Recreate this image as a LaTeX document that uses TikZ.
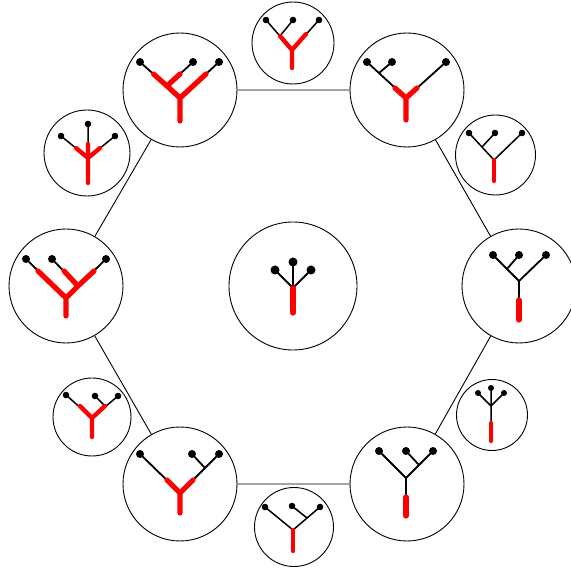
\documentclass[tikz,border=0pt]{standalone}
\begin{document}
\begin{tikzpicture}[x=1pt, y=-1pt,
    vert/.style={circle, draw, line width=0.9pt, inner sep=0pt, minimum size=114pt},
    mid/.style={circle, draw, line width=0.9pt, inner sep=0pt},
    twig/.style={line width=1.8pt, line join=round},
    hot/.style={red, line width=5.2pt, line cap=round, line join=round},
    thintwig/.style={line width=1.5pt, line join=round},
    thinhot/.style={red, line width=4.3pt, line cap=round, line join=round}]
  \useasboundingbox (0,0) rectangle (571,569);

  % Hexagon of trees
  \node[vert] (tl) at (180,90) {};
  \node[vert] (tr) at (407,90) {};
  \node[vert] (rt) at (519,286) {};
  \node[vert] (br) at (407,484) {};
  \node[vert] (bl) at (180,484) {};
  \node[vert] (lf) at (66,286) {};
  \draw[line width=0.9pt] (tl) -- (tr) -- (rt) -- (br) -- (bl) -- (lf) -- (tl);

  % Trees between them, and the star in the middle
  \node[mid, minimum size=82pt] (top) at (293,43) {};
  \node[mid, minimum size=80pt] (trs) at (495.5,155) {};
  \node[mid, minimum size=71pt] (brs) at (492,415) {};
  \node[mid, minimum size=79pt] (bot) at (294,527) {};
  \node[mid, minimum size=78pt] (bls) at (92,417) {};
  \node[mid, minimum size=86pt] (tls) at (87,153) {};
  \node[mid, minimum size=128pt] (star) at (293,286) {};

  % Top left
  \draw[twig] (140,62) -- (180,98) -- (219,62) (167,86) -- (193,62) (180,98) -- (180,121);
  \draw[hot] (153.5,74) -- (167,86) -- (180,74) (167,86) -- (180,98) -- (206,74) (180,98) -- (180,121);
  \fill (140,62) circle (4) (193,62) circle (4) (219,62) circle (4);

  % Top right
  \draw[twig] (367,62) -- (406,98) -- (446,62) (379,73) -- (392,62) (406,98) -- (406,120);
  \draw[hot] (395,88) -- (406,98) -- (417,88) (406,98) -- (406,120);
  \fill (367,62) circle (4) (392,62) circle (4) (446,62) circle (4);

  % Right
  \draw[twig] (493,255) -- (519,281) -- (546,255) (507,269) -- (519,255) (519,281) -- (519,320);
  \draw[hot] (519,300) -- (519,320);
  \fill (493,255) circle (4) (519,255) circle (4) (546,255) circle (4);

  % Bottom right
  \draw[twig] (379,451) -- (406,478) -- (433,451) (419,465) -- (406,451) (406,478) -- (406,516);
  \draw[hot] (406,497) -- (406,516);
  \fill (379,451) circle (4) (406,451) circle (4) (433,451) circle (4);

  % Bottom left
  \draw[twig] (140,454) -- (180,493) -- (219,454) (205,468) -- (192,454) (180,493) -- (180,513);
  \draw[hot] (167,480) -- (180,493) -- (193,480) (180,493) -- (180,513);
  \fill (140,454) circle (4) (192,454) circle (4) (219,454) circle (4);

  % Left
  \draw[twig] (26,259) -- (66,298) -- (106,259) (78,286) -- (52,259) (66,298) -- (66,316);
  \draw[hot] (38,271) -- (66,298) -- (78,286) -- (94,271) (78,286) -- (64,271) (66,298) -- (66,316);
  \fill (26,259) circle (4) (52,259) circle (4) (106,259) circle (4);

  % Star
  \draw[twig] (275,270) -- (293,288) -- (311,270) (293,262) -- (293,288) -- (293,313);
  \draw[hot] (293,288) -- (293,313);
  \fill (275,270) circle (4.5) (293,262) circle (4.5) (311,270) circle (4.5);

  % Small ones
  \draw[thintwig] (266,20) -- (292,50) -- (319,20) (280,36) -- (293,20) (292,50) -- (292,68);
  \draw[thinhot] (280,36) -- (292,50) -- (306,34) (292,50) -- (292,68);
  \fill (266,20) circle (3.3) (293,20) circle (3.3) (319,20) circle (3.3);

  \draw[thintwig] (469,133) -- (494,160) -- (522,133) (482,147) -- (495,133) (494,160) -- (494,181);
  \draw[thinhot] (494,160) -- (494,181);
  \fill (469,133) circle (3.3) (495,133) circle (3.3) (522,133) circle (3.3);

  \draw[thintwig] (478,393) -- (491,406) -- (504,393) (491,388) -- (491,406) -- (491,441);
  \draw[thinhot] (491,423) -- (491,441);
  \fill (478,393) circle (3) (491,388) circle (3) (504,393) circle (3);

  \draw[thintwig] (265,507) -- (293,530) -- (320,507) (307,518) -- (292,506) (293,530) -- (293,551);
  \draw[thinhot] (293,530) -- (293,551);
  \fill (265,507) circle (3.3) (292,506) circle (3.3) (320,507) circle (3.3);

  \draw[thintwig] (66,395) -- (92,418) -- (118,396) (105,406) -- (95,396) (92,418) -- (92,437);
  \draw[thinhot] (80,406) -- (92,418) -- (105,406) (92,418) -- (92,437);
  \fill (66,395) circle (3.3) (95,396) circle (3.3) (118,396) circle (3.3);

  \draw[thintwig] (61,136) -- (88,158) -- (115,136) (88,124) -- (88,158) -- (88,183);
  \draw[thinhot] (76,148) -- (88,158) -- (100,148) (88,144) -- (88,158) -- (88,183);
  \fill (61,136) circle (3.3) (88,124) circle (3.3) (115,136) circle (3.3);
\end{tikzpicture}
\end{document}
